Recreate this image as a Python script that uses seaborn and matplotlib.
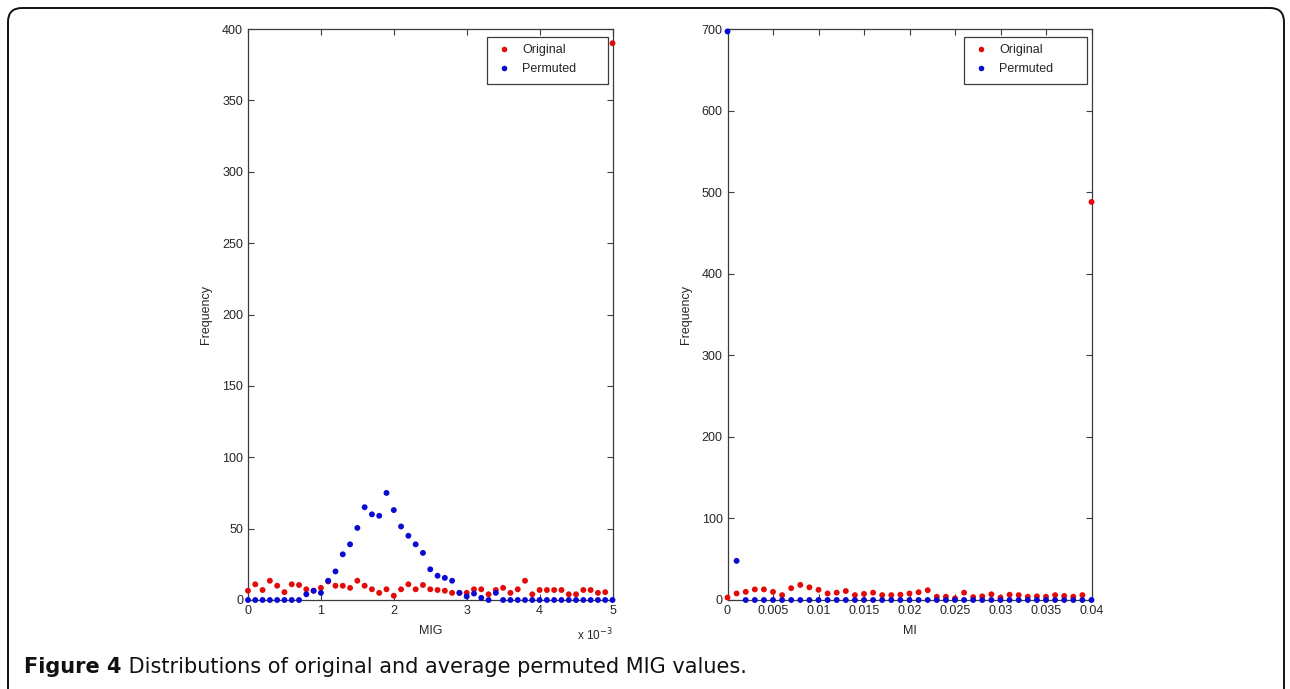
import numpy as np
import pandas as pd
import matplotlib
matplotlib.use("Agg")
import matplotlib.pyplot as plt
import seaborn as sns
from matplotlib.lines import Line2D
from matplotlib.patches import FancyBboxPatch, Rectangle
from matplotlib.transforms import IdentityTransform

# ---------------- data ----------------
series_names = ["Original", "Permuted"]

# MIG bins (in units of 1e-3)
mig_bins = [0.0, 0.1, 0.2, 0.3, 0.4, 0.5, 0.6, 0.7, 0.8, 0.9,
            1.0, 1.1, 1.2, 1.3, 1.4, 1.5, 1.6, 1.7, 1.8, 1.9,
            2.0, 2.1, 2.2, 2.3, 2.4, 2.5, 2.6, 2.7, 2.8, 2.9,
            3.0, 3.1, 3.2, 3.3, 3.4, 3.5, 3.6, 3.7, 3.8, 3.9,
            4.0, 4.1, 4.2, 4.3, 4.4, 4.5, 4.6, 4.7, 4.8, 4.9, 5.0]
mig_original = [6.5, 11, 7, 13.5, 10, 5.5, 11, 10.5, 7.5, 6.5,
                8.5, 13, 10, 10, 8.5, 13.5, 10, 7.5, 5, 7.5,
                3, 7.5, 11, 7.5, 10.5, 7.5, 7, 6.5, 5, 5,
                5, 7.5, 7.5, 4, 7, 8.5, 5, 7.5, 13.5, 4,
                7, 7, 7, 7, 4, 4, 7, 7, 5, 5.5, 390]
mig_permuted = [0, 0, 0, 0, 0, 0, 0, 0, 4, 6.5,
                5, 13.5, 20, 32, 39, 50.5, 65, 60, 59, 75,
                63, 51.5, 45, 39, 33, 21.5, 17, 15.5, 13.5, 5,
                2.5, 4.5, 1.5, 0, 5, 0, 0, 0, 0, 0,
                0, 0, 0, 0, 0, 0, 0, 0, 0, 0, 0]

mi_bins = [0.000, 0.001, 0.002, 0.003, 0.004, 0.005, 0.006, 0.007, 0.008, 0.009,
           0.010, 0.011, 0.012, 0.013, 0.014, 0.015, 0.016, 0.017, 0.018, 0.019,
           0.020, 0.021, 0.022, 0.023, 0.024, 0.025, 0.026, 0.027, 0.028, 0.029,
           0.030, 0.031, 0.032, 0.033, 0.034, 0.035, 0.036, 0.037, 0.038, 0.039, 0.040]
mi_original = [3, 8, 10, 13, 13, 10, 6, 14.5, 18.5, 15.5,
               12.5, 8, 9, 11, 6, 7.5, 9, 6, 6, 6.5,
               8, 9.5, 12, 4, 4, 2, 9, 3.5, 4.5, 7,
               3, 6.5, 6, 4, 4.5, 4, 6, 5, 4, 6, 488]
mi_permuted = [697, 48, 0, 0, 0, 0, 0, 0, 0, 0,
               0, 0, 0, 0, 0, 0, 0, 0, 0, 0,
               0, 0, 0, 0, 0, 0, 0, 0, 0, 0,
               0, 0, 0, 0, 0, 0, 0, 0, 0, 0, 0]

mig_xticks = [0, 1, 2, 3, 4, 5]
mig_yticks = [0, 50, 100, 150, 200, 250, 300, 350, 400]
mi_xticks = [0, 0.005, 0.01, 0.015, 0.02, 0.025, 0.03, 0.035, 0.04]
mi_xticklabels = ["0", "0.005", "0.01", "0.015", "0.02", "0.025", "0.03", "0.035", "0.04"]
mi_yticks = [0, 100, 200, 300, 400, 500, 600, 700]

caption_bold = "Figure 4"
caption_rest = " Distributions of original and average permuted MIG values."

# ---------------- style ----------------
sns.set_style("white")
plt.rcParams["font.family"] = ["Liberation Sans", "DejaVu Sans"]
RED = "#e30a0a"
BLUE = "#0a0ad2"
AX_COL = "#3c3c3c"
TXT_COL = "#262626"
palette = {"Original": RED, "Permuted": BLUE}
W, H = 1290, 689


def long_df(bins, orig, perm):
    return pd.DataFrame({
        "bin": list(bins) + list(bins),
        "freq": list(orig) + list(perm),
        "series": [series_names[0]] * len(bins) + [series_names[1]] * len(bins),
    })


fig = plt.figure(figsize=(W / 100, H / 100), dpi=100)
fig.patch.set_facecolor("white")

ax1 = fig.add_axes([248 / W, 89 / H, 364.5 / W, 571 / H])
ax2 = fig.add_axes([727.5 / W, 89 / H, 364 / W, 571 / H])


def style_axes(ax, xlim, ylim, xticks, yticks, xlabels, xlabel, label_x, leg_left):
    ax.set_xlim(*xlim)
    ax.set_ylim(*ylim)
    ax.set_xticks(xticks)
    ax.set_xticklabels(xlabels)
    ax.set_yticks(yticks)
    ax.set_yticklabels([str(v) for v in yticks])
    for sp in ax.spines.values():
        sp.set_visible(True)
        sp.set_color(AX_COL)
        sp.set_linewidth(0.9)
    ax.tick_params(direction="in", top=True, right=True, bottom=True, left=True,
                   length=4.5, width=0.8, color=AX_COL, labelcolor=TXT_COL,
                   labelsize=9, pad=3.5)
    ax.set_xlabel(xlabel, fontsize=9, color=TXT_COL)
    ax.set_ylabel("Frequency", fontsize=9, color=TXT_COL)
    ax.xaxis.set_label_coords(0.5, -0.043)
    ax.yaxis.set_label_coords(label_x, 0.5)
    ax.grid(False)
    handles = [Line2D([0], [0], marker="o", linestyle="none", markersize=4,
                      markerfacecolor=palette[n], markeredgewidth=0, label=n)
               for n in series_names]
    top = (600 - 37) / 571
    bottom = (600 - 84) / 571
    right = 0.988
    leg = ax.legend(handles=handles, loc="upper left",
                    bbox_to_anchor=(leg_left, top), borderaxespad=0,
                    frameon=False, fontsize=9, handlelength=1.6,
                    handletextpad=0.65, borderpad=0.55, labelspacing=0.6)
    for t in leg.get_texts():
        t.set_color(TXT_COL)
    frame = Rectangle((leg_left, bottom), right - leg_left, top - bottom,
                      transform=ax.transAxes, facecolor="white",
                      edgecolor=AX_COL, linewidth=0.9, zorder=4)
    ax.add_patch(frame)
    leg.set_zorder(5)


df1 = long_df(mig_bins, mig_original, mig_permuted)
sns.scatterplot(data=df1, x="bin", y="freq", hue="series", palette=palette,
                s=18, linewidth=0, ax=ax1, legend=False, clip_on=False, zorder=3)
style_axes(ax1, (0, 5), (0, 400), mig_xticks, mig_yticks,
           [str(v) for v in mig_xticks], "MIG", -0.099, (487 - 248) / 364.5)
ax1.text(1.0, -0.047, r"x 10$^{-3}$", transform=ax1.transAxes, ha="right",
         va="top", fontsize=8.5, color=TXT_COL)

df2 = long_df(mi_bins, mi_original, mi_permuted)
sns.scatterplot(data=df2, x="bin", y="freq", hue="series", palette=palette,
                s=18, linewidth=0, ax=ax2, legend=False, clip_on=False, zorder=3)
style_axes(ax2, (0, 0.04), (0, 700), mi_xticks, mi_yticks,
           mi_xticklabels, "MI", -0.097, (964 - 727.5) / 364)

# rounded border
border = FancyBboxPatch((8, -30), 1276, 30 + 681, boxstyle="round,pad=0,rounding_size=14",
                        transform=IdentityTransform(), facecolor="none",
                        edgecolor="#111111", linewidth=1.4)
fig.patches.append(border)

# caption
cap_y = 16 / H
t1 = fig.text(24 / W, cap_y, caption_bold, fontsize=15, fontweight="bold",
              family=["DejaVu Sans"], color="#111111", va="baseline")
fig.canvas.draw()
bb = t1.get_window_extent(renderer=fig.canvas.get_renderer())
fig.text(bb.x1 / W, cap_y, caption_rest, fontsize=15,
         family=["DejaVu Sans"], color="#111111", va="baseline")

fig.savefig("out.png", dpi=100, facecolor="white")
